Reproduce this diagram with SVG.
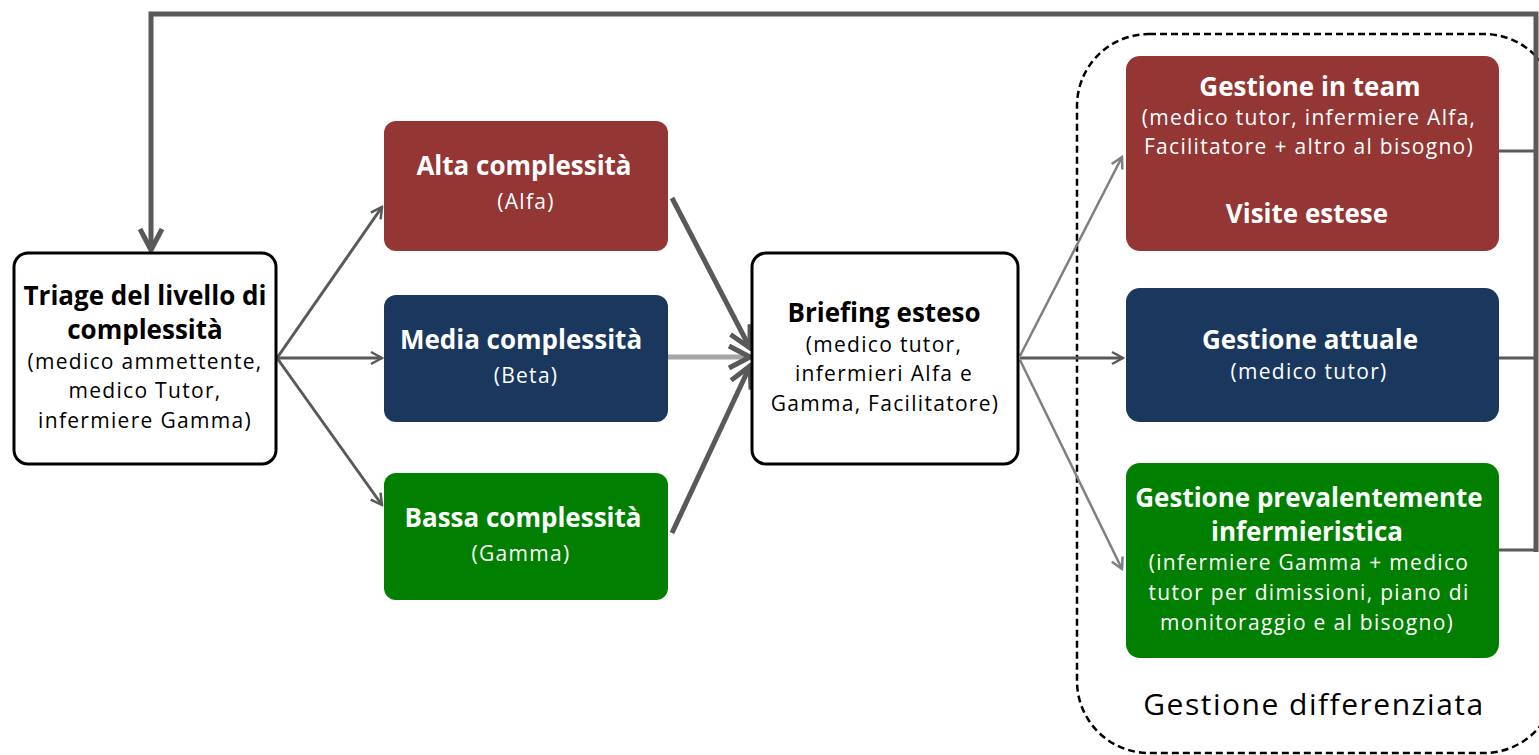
<svg xmlns="http://www.w3.org/2000/svg" width="1539" height="755" viewBox="0 0 1539 755">
  <style>
    .t { font-family: "Open Sans", "Noto Sans", "Liberation Sans", sans-serif; text-anchor: middle; }
    .b { font-weight: bold; font-size: 26px; }
    .n { font-size: 21px; letter-spacing: 1.3px; }
    .w { fill: #ffffff; }
    .k { fill: #000000; }
    .outline { fill: #ffffff; stroke: #000000; stroke-width: 3; }
    .red { fill: #943634; }
    .blue { fill: #1a375e; }
    .green { fill: #007f00; }
    .ln { fill: none; stroke: #595959; stroke-linecap: butt; }
  </style>
  <defs>
    <marker id="hSmall" markerUnits="userSpaceOnUse" viewBox="0 0 16 16" refX="14" refY="8" markerWidth="16" markerHeight="16" orient="auto">
      <path d="M3,2 L14,8 L3,14" fill="none" stroke="#595959" stroke-width="2.5"/>
    </marker>
    <marker id="hLight" markerUnits="userSpaceOnUse" viewBox="0 0 16 16" refX="14" refY="8" markerWidth="16" markerHeight="16" orient="auto">
      <path d="M3,2 L14,8 L3,14" fill="none" stroke="#7f7f7f" stroke-width="2.5"/>
    </marker>
    <marker id="hBig" markerUnits="userSpaceOnUse" viewBox="0 0 28 28" refX="25" refY="14" markerWidth="28" markerHeight="28" orient="auto">
      <path d="M4,3 L25,14 L4,25" fill="none" stroke="#595959" stroke-width="5"/>
    </marker>
  </defs>

  <!-- differentiated-management frame -->
  <rect id="gestione-differenziata" x="1077" y="34" width="479" height="719" rx="72" fill="none" stroke="#000000" stroke-width="2.5" stroke-dasharray="7,4"/>

  <g id="connectors">
    <!-- triage to complexity levels -->
    <line class="ln" x1="277" y1="358" x2="382" y2="207" stroke-width="3" marker-end="url(#hSmall)"/>
    <line class="ln" x1="277" y1="358" x2="382" y2="358" stroke-width="3" marker-end="url(#hSmall)"/>
    <line class="ln" x1="277" y1="358" x2="382" y2="505" stroke-width="3" marker-end="url(#hSmall)"/>
    <!-- complexity levels to briefing -->
    <line class="ln" x1="672" y1="198" x2="750" y2="348" stroke-width="5" marker-end="url(#hBig)"/>
    <line x1="668" y1="357" x2="750" y2="357" stroke="#a6a6a6" stroke-width="5" marker-end="url(#hBig)"/>
    <line class="ln" x1="672" y1="533" x2="750" y2="366" stroke-width="5" marker-end="url(#hBig)"/>
    <!-- briefing to management types -->
    <line x1="1020" y1="356" x2="1122" y2="157" stroke="#7f7f7f" stroke-width="2.5" marker-end="url(#hLight)"/>
    <line class="ln" x1="1020" y1="358" x2="1123" y2="358" stroke-width="3" marker-end="url(#hSmall)"/>
    <line x1="1020" y1="360" x2="1122" y2="569" stroke="#7f7f7f" stroke-width="2.5" marker-end="url(#hLight)"/>
    <!-- feedback loop back to triage -->
    <line class="ln" x1="1499" y1="151" x2="1536" y2="151" stroke-width="3"/>
    <line class="ln" x1="1499" y1="358" x2="1536" y2="358" stroke-width="3"/>
    <line class="ln" x1="1499" y1="550" x2="1536" y2="550" stroke-width="3"/>
    <polyline class="ln" points="1536,552 1536,14 151,14 151,250" stroke-width="5" stroke-linejoin="miter" marker-end="url(#hBig)"/>
  </g>

  <g id="triage">
    <rect class="outline" x="14" y="253" width="262" height="211" rx="14"/>
    <text class="t b k" x="145" y="305">Triage del livello di</text>
    <text class="t b k" x="145" y="339">complessità</text>
    <text class="t n k" x="145" y="369">(medico ammettente,</text>
    <text class="t n k" x="145" y="398">medico Tutor,</text>
    <text class="t n k" x="145" y="428">infermiere Gamma)</text>
  </g>

  <g id="alta">
    <rect class="red" x="384" y="121" width="284" height="130" rx="12"/>
    <text class="t b w" x="524" y="175">Alta complessità</text>
    <text class="t n w" x="526" y="209">(Alfa)</text>
  </g>

  <g id="media">
    <rect class="blue" x="384" y="295" width="284" height="127" rx="12"/>
    <text class="t b w" x="521" y="349">Media complessità</text>
    <text class="t n w" x="526" y="383">(Beta)</text>
  </g>

  <g id="bassa">
    <rect class="green" x="384" y="473" width="284" height="127" rx="12"/>
    <text class="t b w" x="523" y="527">Bassa complessità</text>
    <text class="t n w" x="521" y="561">(Gamma)</text>
  </g>

  <g id="briefing">
    <rect class="outline" x="752" y="253" width="266" height="211" rx="14"/>
    <text class="t b k" x="884" y="322">Briefing esteso</text>
    <text class="t n k" x="884" y="352">(medico tutor,</text>
    <text class="t n k" x="884" y="381">infermieri Alfa e</text>
    <text class="t n k" x="885" y="411">Gamma, Facilitatore)</text>
  </g>

  <g id="team">
    <rect class="red" x="1126" y="56" width="373" height="195" rx="14"/>
    <text class="t b w" x="1310" y="96">Gestione in team</text>
    <text class="t n w" x="1309" y="125">(medico tutor, infermiere Alfa,</text>
    <text class="t n w" x="1309" y="154">Facilitatore + altro al bisogno)</text>
    <text class="t b w" x="1307" y="223">Visite estese</text>
  </g>

  <g id="attuale">
    <rect class="blue" x="1126" y="288" width="373" height="134" rx="14"/>
    <text class="t b w" x="1310" y="349">Gestione attuale</text>
    <text class="t n w" x="1309" y="379">(medico tutor)</text>
  </g>

  <g id="infermieristica">
    <rect class="green" x="1126" y="463" width="373" height="195" rx="14"/>
    <text class="t b w" x="1309" y="507">Gestione prevalentemente</text>
    <text class="t b w" x="1307" y="541">infermieristica</text>
    <text class="t n w" x="1309" y="570">(infermiere Gamma + medico</text>
    <text class="t n w" x="1309" y="600">tutor per dimissioni, piano di</text>
    <text class="t n w" x="1307" y="630">monitoraggio e al bisogno)</text>
  </g>

  <text class="t k" x="1314" y="715" font-size="30" letter-spacing="1.5">Gestione differenziata</text>
</svg>
